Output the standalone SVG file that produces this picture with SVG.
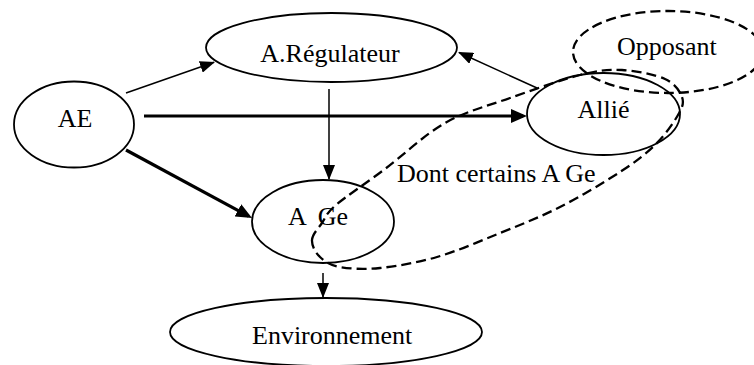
<svg xmlns="http://www.w3.org/2000/svg" width="754" height="365" viewBox="0 0 754 365">
<style>
.node{fill:none;stroke:#000;stroke-width:1.8}
.dash{fill:none;stroke:#000;stroke-width:2.3;stroke-dasharray:10 5}
.lbl{font-family:"Liberation Serif","Times New Roman",serif;font-size:26px;fill:#000}
.thin{stroke:#000;stroke-width:1.5;fill:none}
.thick{stroke:#000;stroke-width:3.2;fill:none}
</style>
<defs>
<marker id="ah" markerUnits="userSpaceOnUse" markerWidth="15" markerHeight="12" refX="14" refY="6" orient="auto">
<path d="M0,0 L15,6 L0,12 z" fill="#000"/>
</marker>
<marker id="ahb" markerUnits="userSpaceOnUse" markerWidth="16" markerHeight="14" refX="12" refY="7" orient="auto">
<path d="M0,0 L16,7 L0,14 z" fill="#000"/>
</marker>
</defs>
<rect width="754" height="365" fill="#fff"/>
<g id="opposant">
<ellipse class="dash" cx="668" cy="52" rx="95" ry="41"/>
<text class="lbl" x="617" y="55">Opposant</text>
</g>
<g id="regulateur">
<ellipse class="node" cx="331.5" cy="47.5" rx="125.5" ry="34.5"/>
<text class="lbl" x="330" y="62" text-anchor="middle">A.Régulateur</text>
</g>
<g id="ae">
<ellipse class="node" cx="74" cy="124.5" rx="60" ry="43"/>
<text class="lbl" x="75" y="127" text-anchor="middle">AE</text>
</g>
<g id="allie">
<ellipse class="node" cx="603.5" cy="114" rx="76.5" ry="41"/>
<text class="lbl" x="603.5" y="118" text-anchor="middle">Allié</text>
</g>
<g id="age">
<ellipse class="node" cx="323" cy="221.5" rx="71" ry="41.5"/>
<text class="lbl" x="288" y="225">A <tspan dx="6">Ge</tspan></text>
</g>
<g id="environnement">
<ellipse class="node" cx="326" cy="332" rx="156" ry="34"/>
<text class="lbl" x="252" y="344">Environnement</text>
</g>
<g id="certains">
<path class="dash" d="M312,240 C312.3,234.3 318,228.8 322,223 C326,217.2 325.5,214 336,205 C346.5,196 366.8,182.7 385,169 C403.2,155.3 424.2,134.8 445,123 C465.8,111.2 487.5,106 510,98 C532.5,90 561.3,79.7 580,75 C598.7,70.3 607.8,69.3 622,70 C636.2,70.7 655,74.5 665,79 C675,83.5 679.8,91 682,97 C684.2,103 682.5,107 678,115 C673.5,123 664.7,135.5 655,145 C645.3,154.5 635.8,161.7 620,172 C604.2,182.3 580,196.8 560,207 C540,217.2 520.5,224.7 500,233 C479.5,241.3 457,251.2 437,257 C417,262.8 396.2,266.3 380,268 C363.8,269.7 350,268.8 340,267 C330,265.2 324.7,261.5 320,257 C315.3,252.5 311.7,245.7 312,240 Z"/>
<text class="lbl" x="397" y="182">Dont certains A Ge</text>
</g>
<g id="connectors">
<line class="thin" x1="126" y1="93" x2="214" y2="62.3" marker-end="url(#ah)"/>
<line class="thick" x1="144" y1="116" x2="523" y2="116" marker-end="url(#ahb)"/>
<line class="thick" x1="126" y1="150" x2="248.5" y2="216.1" marker-end="url(#ahb)"/>
<line class="thin" x1="329" y1="89" x2="329" y2="179" marker-end="url(#ah)"/>
<line class="thin" x1="537" y1="88" x2="459" y2="52.5" marker-end="url(#ah)"/>
<line class="thin" x1="323" y1="273" x2="323" y2="297" marker-end="url(#ah)"/>
</g>
</svg>
